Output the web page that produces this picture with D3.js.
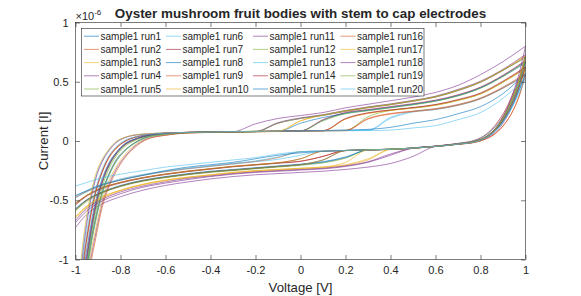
<!DOCTYPE html>
<html><head><meta charset="utf-8">
<script src="https://cdn.jsdelivr.net/npm/d3@7/dist/d3.min.js"></script>
<style>
body{margin:0;background:#fff}
svg{display:block}
text{font-family:"Liberation Sans",Arial,Helvetica,sans-serif;fill:#262626}
</style>
</head><body>
<svg id="chart" width="581" height="296"></svg>
<script>
// ---- data (current in units of 1e-6 A) ----
const titleText = "Oyster mushroom fruit bodies with stem to cap electrodes";
const xLabelText = "Voltage [V]";
const yLabelText = "Current [I]";
const xTickValues = [-1,-0.8,-0.6,-0.4,-0.2,0,0.2,0.4,0.6,0.8,1];
const xTickLabels = ["-1","-0.8","-0.6","-0.4","-0.2","0","0.2","0.4","0.6","0.8","1"];
const yTickValues = [-1,-0.5,0,0.5,1];
const yTickLabels = ["-1","-0.5","0","0.5","1"];
const runNames = ["sample1 run1","sample1 run2","sample1 run3","sample1 run4","sample1 run5",
  "sample1 run6","sample1 run7","sample1 run8","sample1 run9","sample1 run10",
  "sample1 run11","sample1 run12","sample1 run13","sample1 run14","sample1 run15",
  "sample1 run16","sample1 run17","sample1 run18","sample1 run19","sample1 run20"];

// sweep voltages: rising branch and falling branch
const voltageUp = [-1,-0.97,-0.94,-0.91,-0.88,-0.85,-0.82,-0.78,-0.74,-0.68,-0.6,
  -0.5,-0.4,-0.3,-0.2,-0.1,0,0.1,0.2,0.3,0.4,0.5,0.6,0.7,0.8,0.9,1];
const voltageDown = [1,0.97,0.94,0.91,0.88,0.85,0.82,0.78,0.7,0.6,0.5,0.4,0.3,0.2,0.1,0,
  -0.1,-0.2,-0.3,-0.4,-0.5,-0.6,-0.7,-0.8,-0.9,-0.95,-1];

const up1  = [-2.0,-1.3,-0.87,-0.55,-0.34,-0.20,-0.11,-0.03,0.01,0.045,0.064,0.072,0.075,0.078,0.080,0.082,0.085,0.175,0.235,0.26,0.285,0.31,0.34,0.385,0.45,0.55,0.67];
const up2  = [-2.3,-1.5,-0.98,-0.66,-0.43,-0.28,-0.17,-0.08,-0.02,0.033,0.057,0.071,0.074,0.077,0.079,0.081,0.084,0.086,0.185,0.235,0.26,0.28,0.305,0.345,0.40,0.50,0.62];
const up3  = [-1.8,-1.1,-0.70,-0.42,-0.25,-0.13,-0.06,0.0,0.03,0.053,0.066,0.073,0.076,0.079,0.081,0.083,0.17,0.22,0.255,0.285,0.31,0.34,0.375,0.43,0.50,0.60,0.72];
const up4  = [-2.6,-1.7,-1.1,-0.78,-0.52,-0.36,-0.24,-0.13,-0.05,0.02,0.05,0.068,0.072,0.075,0.078,0.15,0.19,0.215,0.25,0.28,0.305,0.335,0.37,0.425,0.495,0.595,0.71];
const up5  = [-2.1,-1.4,-0.92,-0.6,-0.38,-0.23,-0.13,-0.045,0.0,0.04,0.062,0.072,0.075,0.078,0.080,0.082,0.085,0.087,0.089,0.205,0.258,0.278,0.302,0.342,0.398,0.495,0.61];
const up6  = [-1.6,-0.95,-0.55,-0.30,-0.16,-0.07,-0.01,0.03,0.05,0.06,0.068,0.073,0.076,0.079,0.081,0.083,0.086,0.088,0.090,0.091,0.20,0.25,0.27,0.305,0.36,0.45,0.56];
const up7  = [-1.95,-1.25,-0.84,-0.53,-0.33,-0.19,-0.10,-0.025,0.012,0.046,0.064,0.072,0.076,0.078,0.080,0.083,0.086,0.18,0.24,0.265,0.29,0.315,0.345,0.39,0.455,0.555,0.68];
const up8  = [-2.25,-1.45,-0.95,-0.64,-0.42,-0.27,-0.16,-0.075,-0.018,0.035,0.058,0.071,0.074,0.077,0.079,0.081,0.15,0.198,0.232,0.258,0.282,0.308,0.338,0.382,0.447,0.545,0.66];
const up9  = [-1.85,-1.15,-0.73,-0.44,-0.26,-0.14,-0.065,-0.005,0.028,0.052,0.066,0.073,0.076,0.079,0.081,0.083,0.086,0.088,0.090,0.19,0.232,0.252,0.273,0.308,0.363,0.455,0.57];
const up10 = [-2.5,-1.62,-1.05,-0.74,-0.49,-0.33,-0.22,-0.115,-0.04,0.025,0.052,0.068,0.072,0.075,0.078,0.080,0.083,0.085,0.185,0.232,0.257,0.277,0.302,0.342,0.397,0.495,0.615];
const up11 = [-1.65,-1.0,-0.58,-0.32,-0.17,-0.08,-0.015,0.028,0.048,0.06,0.068,0.073,0.076,0.079,0.081,0.155,0.195,0.222,0.258,0.288,0.313,0.343,0.378,0.435,0.505,0.605,0.73];
const up12 = [-2.05,-1.35,-0.9,-0.57,-0.35,-0.21,-0.115,-0.035,0.008,0.044,0.063,0.072,0.075,0.078,0.080,0.082,0.084,0.17,0.23,0.255,0.28,0.305,0.335,0.38,0.445,0.545,0.665];
const up13 = [-2.35,-1.55,-1.0,-0.68,-0.45,-0.29,-0.18,-0.085,-0.025,0.03,0.056,0.071,0.074,0.077,0.079,0.081,0.084,0.086,0.088,0.089,0.19,0.245,0.265,0.30,0.355,0.445,0.555];
const up14 = [-1.8,-1.1,-0.70,-0.42,-0.25,-0.13,-0.06,0.0,0.03,0.053,0.066,0.073,0.076,0.079,0.081,0.083,0.086,0.088,0.19,0.238,0.262,0.283,0.308,0.35,0.405,0.505,0.625];
const up15 = [-1.9,-1.2,-0.8,-0.5,-0.31,-0.18,-0.1,-0.02,0.015,0.048,0.065,0.072,0.075,0.078,0.080,0.082,0.085,0.088,0.092,0.098,0.115,0.15,0.18,0.23,0.29,0.40,0.57];
const up16 = [-2.7,-1.8,-1.15,-0.82,-0.55,-0.38,-0.26,-0.14,-0.06,0.015,0.048,0.068,0.072,0.075,0.078,0.080,0.083,0.085,0.087,0.185,0.228,0.248,0.268,0.302,0.357,0.447,0.555];
const up17 = [-1.55,-0.9,-0.52,-0.28,-0.15,-0.065,-0.005,0.032,0.051,0.061,0.069,0.073,0.076,0.079,0.081,0.083,0.17,0.218,0.252,0.282,0.307,0.337,0.372,0.427,0.497,0.597,0.715];
const up18 = [-2.0,-1.3,-0.87,-0.55,-0.34,-0.20,-0.11,-0.03,0.01,0.045,0.064,0.072,0.075,0.078,0.145,0.19,0.215,0.24,0.28,0.31,0.34,0.37,0.41,0.47,0.56,0.67,0.80];
const up19 = [-2.3,-1.5,-0.98,-0.66,-0.43,-0.28,-0.17,-0.08,-0.02,0.033,0.057,0.071,0.074,0.077,0.079,0.15,0.19,0.218,0.253,0.283,0.308,0.338,0.373,0.428,0.498,0.598,0.70];
const up20 = [-1.75,-1.05,-0.66,-0.4,-0.23,-0.12,-0.05,0.005,0.032,0.054,0.066,0.073,0.076,0.079,0.081,0.083,0.085,0.086,0.087,0.088,0.092,0.11,0.13,0.18,0.24,0.36,0.53];

const dn1  = [0.67,0.48,0.335,0.22,0.13,0.07,0.028,-0.002,-0.025,-0.045,-0.06,-0.07,-0.075,-0.14,-0.18,-0.2,-0.215,-0.23,-0.245,-0.26,-0.28,-0.305,-0.335,-0.38,-0.45,-0.5,-0.58];
const dn2  = [0.62,0.48,0.35,0.24,0.155,0.09,0.045,0.008,-0.022,-0.044,-0.06,-0.07,-0.075,-0.08,-0.13,-0.17,-0.185,-0.2,-0.215,-0.235,-0.255,-0.28,-0.31,-0.35,-0.41,-0.46,-0.53];
const dn3  = [0.72,0.51,0.355,0.23,0.135,0.072,0.03,0.0,-0.025,-0.045,-0.06,-0.07,-0.15,-0.2,-0.22,-0.23,-0.24,-0.25,-0.265,-0.285,-0.305,-0.33,-0.365,-0.415,-0.49,-0.55,-0.64];
const dn4  = [0.71,0.45,0.29,0.18,0.1,0.05,0.018,-0.007,-0.027,-0.045,-0.13,-0.19,-0.22,-0.24,-0.255,-0.265,-0.275,-0.285,-0.3,-0.32,-0.345,-0.375,-0.415,-0.47,-0.55,-0.62,-0.73];
const dn5  = [0.61,0.445,0.31,0.2,0.12,0.064,0.026,-0.003,-0.026,-0.046,-0.061,-0.071,-0.076,-0.145,-0.185,-0.205,-0.22,-0.235,-0.25,-0.265,-0.285,-0.31,-0.34,-0.385,-0.455,-0.51,-0.59];
const dn6  = [0.56,0.415,0.29,0.19,0.115,0.06,0.024,-0.005,-0.026,-0.046,-0.061,-0.071,-0.076,-0.081,-0.085,-0.12,-0.155,-0.175,-0.195,-0.215,-0.235,-0.26,-0.29,-0.33,-0.39,-0.43,-0.48];
const dn7  = [0.68,0.52,0.38,0.26,0.17,0.1,0.05,0.01,-0.02,-0.043,-0.059,-0.069,-0.074,-0.079,-0.13,-0.172,-0.188,-0.203,-0.218,-0.238,-0.258,-0.283,-0.313,-0.355,-0.415,-0.465,-0.54];
const dn8  = [0.66,0.47,0.33,0.215,0.128,0.068,0.027,-0.003,-0.025,-0.045,-0.06,-0.07,-0.075,-0.135,-0.175,-0.195,-0.21,-0.225,-0.24,-0.255,-0.275,-0.3,-0.33,-0.375,-0.445,-0.495,-0.57];
const dn9  = [0.57,0.37,0.24,0.15,0.085,0.042,0.014,-0.009,-0.028,-0.046,-0.061,-0.071,-0.076,-0.081,-0.086,-0.09,-0.14,-0.172,-0.192,-0.212,-0.232,-0.257,-0.287,-0.327,-0.385,-0.425,-0.475];
const dn10 = [0.615,0.445,0.31,0.2,0.12,0.064,0.026,-0.003,-0.026,-0.046,-0.061,-0.071,-0.16,-0.205,-0.225,-0.235,-0.245,-0.255,-0.27,-0.29,-0.31,-0.335,-0.37,-0.42,-0.5,-0.56,-0.65];
const dn11 = [0.73,0.52,0.36,0.235,0.138,0.074,0.031,0.0,-0.024,-0.044,-0.06,-0.11,-0.175,-0.21,-0.23,-0.24,-0.25,-0.26,-0.275,-0.295,-0.315,-0.345,-0.38,-0.43,-0.51,-0.57,-0.67];
const dn12 = [0.665,0.475,0.333,0.218,0.129,0.069,0.028,-0.002,-0.025,-0.045,-0.06,-0.07,-0.075,-0.08,-0.085,-0.15,-0.185,-0.2,-0.215,-0.235,-0.255,-0.28,-0.31,-0.35,-0.41,-0.46,-0.53];
const dn13 = [0.555,0.44,0.33,0.23,0.15,0.09,0.045,0.008,-0.022,-0.044,-0.06,-0.07,-0.075,-0.08,-0.085,-0.09,-0.135,-0.168,-0.188,-0.208,-0.228,-0.252,-0.282,-0.32,-0.378,-0.418,-0.465];
const dn14 = [0.625,0.45,0.315,0.205,0.122,0.065,0.026,-0.003,-0.026,-0.046,-0.061,-0.071,-0.076,-0.081,-0.16,-0.2,-0.215,-0.23,-0.245,-0.26,-0.28,-0.305,-0.335,-0.38,-0.45,-0.5,-0.58];
const dn15 = [0.57,0.42,0.295,0.195,0.117,0.062,0.025,-0.004,-0.026,-0.046,-0.06,-0.07,-0.075,-0.08,-0.088,-0.1,-0.12,-0.15,-0.18,-0.2,-0.22,-0.25,-0.29,-0.33,-0.38,-0.42,-0.46];
const dn16 = [0.555,0.37,0.24,0.15,0.085,0.042,0.014,-0.009,-0.028,-0.046,-0.061,-0.071,-0.076,-0.081,-0.086,-0.15,-0.183,-0.198,-0.213,-0.233,-0.253,-0.278,-0.308,-0.348,-0.408,-0.458,-0.525];
const dn17 = [0.715,0.505,0.352,0.228,0.134,0.071,0.029,-0.001,-0.025,-0.045,-0.06,-0.07,-0.075,-0.18,-0.22,-0.23,-0.24,-0.25,-0.265,-0.285,-0.305,-0.33,-0.365,-0.415,-0.49,-0.55,-0.64];
const dn18 = [0.80,0.56,0.38,0.24,0.14,0.075,0.03,0.0,-0.024,-0.044,-0.06,-0.12,-0.18,-0.215,-0.235,-0.245,-0.255,-0.265,-0.28,-0.3,-0.325,-0.355,-0.39,-0.445,-0.525,-0.59,-0.69];
const dn19 = [0.70,0.5,0.35,0.226,0.133,0.071,0.029,-0.001,-0.025,-0.045,-0.06,-0.07,-0.075,-0.08,-0.16,-0.2,-0.215,-0.23,-0.245,-0.26,-0.28,-0.305,-0.335,-0.38,-0.45,-0.5,-0.58];
const dn20 = [0.53,0.395,0.28,0.185,0.11,0.058,0.022,-0.006,-0.027,-0.046,-0.06,-0.07,-0.075,-0.08,-0.085,-0.09,-0.11,-0.14,-0.16,-0.18,-0.2,-0.22,-0.25,-0.28,-0.32,-0.35,-0.38];

const upCurrents = [up1,up2,up3,up4,up5,up6,up7,up8,up9,up10,up11,up12,up13,up14,up15,up16,up17,up18,up19,up20];
const downCurrents = [dn1,dn2,dn3,dn4,dn5,dn6,dn7,dn8,dn9,dn10,dn11,dn12,dn13,dn14,dn15,dn16,dn17,dn18,dn19,dn20];

// ---- styling / layout ----
const palette = ["#0072BD","#D95319","#EDB120","#7E2F8E","#77AC30","#4DBEEE","#A2142F"];
const W = 581, H = 296;
const plot = {left: 75.5, right: 525.5, top: 22.5, bottom: 259.5};
const axisColor = "#262626";
const fontStack = '"Liberation Sans",Arial,Helvetica,sans-serif';

const svg = d3.select("#chart");
const x = d3.scaleLinear().domain([-1, 1]).range([plot.left, plot.right]);
const y = d3.scaleLinear().domain([-1, 1]).range([plot.bottom, plot.top]);

svg.append("rect").attr("width", W).attr("height", H).attr("fill", "#fff");

svg.append("defs").append("clipPath").attr("id", "clip")
  .append("rect").attr("x", plot.left).attr("y", plot.top)
  .attr("width", plot.right - plot.left).attr("height", plot.bottom - plot.top);

// series
const line = d3.line().x(d => x(d[0])).y(d => y(d[1])).curve(d3.curveMonotoneX);
const gSeries = svg.append("g").attr("clip-path", "url(#clip)");
runNames.forEach((name, i) => {
  const upPts = voltageUp.map((v, k) => [v, upCurrents[i][k]]);
  const dnPts = voltageDown.map((v, k) => [v, downCurrents[i][k]]).reverse();
  gSeries.append("path")
    .attr("d", line(upPts) + line(dnPts))
    .attr("fill", "none")
    .attr("stroke", palette[i % palette.length])
    .attr("stroke-width", 0.6)
    .attr("stroke-linejoin", "round");
});

// axes box
const gAx = svg.append("g");
gAx.append("rect").attr("x", plot.left).attr("y", plot.top)
  .attr("width", plot.right - plot.left).attr("height", plot.bottom - plot.top)
  .attr("fill", "none").attr("stroke", axisColor).attr("stroke-width", 0.6);

const tickLen = 4.5;
const axB = d3.axisBottom(x).tickValues(xTickValues).tickFormat((d, i) => xTickLabels[i]).tickSizeInner(-tickLen).tickSizeOuter(0).tickPadding(7);
const axT = d3.axisTop(x).tickValues(xTickValues).tickFormat("").tickSizeInner(-tickLen).tickSizeOuter(0);
const axL = d3.axisLeft(y).tickValues(yTickValues).tickFormat((d, i) => yTickLabels[i]).tickSizeInner(-tickLen).tickSizeOuter(0).tickPadding(7);
const axR = d3.axisRight(y).tickValues(yTickValues).tickFormat("").tickSizeInner(-tickLen).tickSizeOuter(0);

function styleAxis(g) {
  g.select(".domain").remove();
  g.selectAll(".tick line").attr("stroke", axisColor).attr("stroke-width", 0.6);
  g.selectAll(".tick text").attr("fill", axisColor).style("font-size", "11px")
    .style("font-family", fontStack);
}
gAx.append("g").attr("transform", `translate(0,${plot.bottom})`).call(axB).call(styleAxis);
gAx.append("g").attr("transform", `translate(0,${plot.top})`).call(axT).call(styleAxis);
gAx.append("g").attr("transform", `translate(${plot.left},0)`).call(axL).call(styleAxis);
gAx.append("g").attr("transform", `translate(${plot.right},0)`).call(axR).call(styleAxis);

// exponent label
const ex = svg.append("text").attr("x", plot.left).attr("y", 19.5).style("font-size", "11px");
ex.append("tspan").text("\u00d710");
ex.append("tspan").attr("dy", -4.5).style("font-size", "8px").text("-6");

// title and labels
svg.append("text").attr("x", 300.5).attr("y", 18).attr("text-anchor", "middle")
  .style("font-size", "13.4px").style("font-weight", "bold").attr("fill", "#000").text(titleText);
svg.append("text").attr("x", (plot.left + plot.right) / 2).attr("y", 291.5).attr("text-anchor", "middle")
  .style("font-size", "13.2px").text(xLabelText);
svg.append("text").attr("transform", `translate(47.5,${(plot.top + plot.bottom) / 2}) rotate(-90)`)
  .attr("text-anchor", "middle").style("font-size", "13.2px").text(yLabelText);

// legend
const leg = {x: 81.5, y: 28.5, w: 342.5, h: 67.5, rowH: 13.2, firstRow: 36.2, colX: [84, 166, 253, 340.5]};
svg.append("rect").attr("x", leg.x).attr("y", leg.y).attr("width", leg.w).attr("height", leg.h)
  .attr("fill", "#fff").attr("stroke", axisColor).attr("stroke-width", 0.6);
runNames.forEach((name, i) => {
  const col = Math.floor(i / 5), row = i % 5;
  const lx = leg.colX[col], ly = leg.firstRow + row * leg.rowH;
  svg.append("line").attr("x1", lx).attr("x2", lx + 15).attr("y1", ly).attr("y2", ly)
    .attr("stroke", palette[i % palette.length]).attr("stroke-width", 0.6);
  svg.append("text").attr("x", lx + 16.5).attr("y", ly).attr("dy", "0.35em")
    .style("font-size", "10px").attr("fill", "#000").text(name);
});
</script>
</body></html>
